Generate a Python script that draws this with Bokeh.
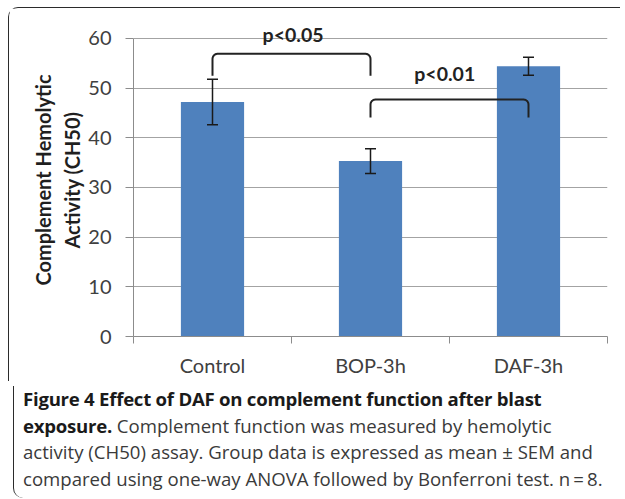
import math
from bokeh.plotting import figure
from bokeh.models import ColumnDataSource, Whisker, Label, FixedTicker, Div, TeeHead, Spacer
from bokeh.layouts import column, row
from bokeh.embed import file_html
from bokeh.resources import INLINE

# ---- data ----
categories = ["Control", "BOP-3h", "DAF-3h"]
means = [47.2, 35.3, 54.4]
sems = [4.6, 2.5, 1.8]
y_ticks = [0, 10, 20, 30, 40, 50, 60]

bracket_from = [0, 1]          # category index of left leg
bracket_to = [1, 2]            # category index of right leg
bracket_top = [56.9, 47.7]
bracket_foot = [52.5, 44.1]
bracket_text = ["p<0.05", "p<0.01"]
bracket_text_x = [0.51, 1.47]
bracket_text_y = [60.8, 52.9]

caption_bold = "Figure 4 Effect of DAF on complement function after blast"
caption_bold2 = "exposure."
caption_rest = [" Complement function was measured by hemolytic",
                "activity (CH50) assay. Group data is expressed as mean \u00b1 SEM and",
                "compared using one-way ANOVA followed by Bonferroni test. n\u2009=\u20098."]

# ---- figure ----
FONT = "Lato"
BORDER = "1.5px solid #2b2b2b"
xs = list(range(len(categories)))

p = figure(width=612, height=374, x_range=(-0.5, len(categories) - 0.5), y_range=(0, 63),
           output_backend="svg", toolbar_location=None,
           min_border_left=124, min_border_right=14, min_border_top=15, min_border_bottom=46,
           styles={"border-top": BORDER, "border-left": BORDER, "border-top-left-radius": "10px"})
p.outline_line_color = None

p.vbar(x=xs, top=means, width=0.4, fill_color="#4F81BD", line_color=None)

src = ColumnDataSource(dict(x=xs, upper=[m + s for m, s in zip(means, sems)],
                            lower=[m - s for m, s in zip(means, sems)]))
w = Whisker(base="x", upper="upper", lower="lower", source=src, level="overlay",
            line_color="#1a1a1a", line_width=1.5,
            upper_head=TeeHead(size=11, line_color="#1a1a1a", line_width=1.5),
            lower_head=TeeHead(size=11, line_color="#1a1a1a", line_width=1.5))
p.add_layout(w)

# brackets with slightly rounded corners (corner radius in px converted to data units)
RX, RY = 5 / 158.0, 5 / 4.97
angles = [i * math.pi / 12 for i in range(7)]   # 0..90 degrees
bx, by = [], []
for a, b, f, t in zip(bracket_from, bracket_to, bracket_foot, bracket_top):
    xx, yy = [a], [f]
    for ang in angles:  # left corner: 180 -> 90 deg
        th = math.pi - ang
        xx.append(a + RX + RX * math.cos(th)); yy.append(t - RY + RY * math.sin(th))
    for ang in angles:  # right corner: 90 -> 0 deg
        th = math.pi / 2 - ang
        xx.append(b - RX + RX * math.cos(th)); yy.append(t - RY + RY * math.sin(th))
    xx.append(b); yy.append(f)
    bx.append(xx); by.append(yy)
p.multi_line(xs=bx, ys=by, line_color="#222222", line_width=2, line_join="round")

for tx, ty, tt in zip(bracket_text_x, bracket_text_y, bracket_text):
    p.add_layout(Label(x=tx, y=ty, text=tt, text_align="center", text_baseline="middle",
                       text_font=FONT, text_font_style="bold", text_font_size="19.5px",
                       text_color="#222222"))

# axes
AX = "#8c8c8c"
p.xaxis.ticker = FixedTicker(ticks=xs, minor_ticks=[i - 0.5 for i in range(len(categories) + 1)])
p.xaxis.major_label_overrides = {i: c for i, c in enumerate(categories)}
p.xaxis.major_tick_out = 0
p.xaxis.major_tick_in = 0
p.xaxis.minor_tick_out = 7
p.xaxis.minor_tick_in = 0
p.xaxis.minor_tick_line_color = AX
p.xaxis.axis_line_color = AX
p.xaxis.major_label_standoff = 9
p.xaxis.major_label_text_font = FONT
p.xaxis.major_label_text_font_size = "20px"
p.xaxis.major_label_text_color = "#404040"

p.yaxis.ticker = FixedTicker(ticks=y_ticks, minor_ticks=[])
p.yaxis.bounds = (0, 60)
p.yaxis.major_tick_out = 8
p.yaxis.major_tick_in = 0
p.yaxis.major_tick_line_color = AX
p.yaxis.axis_line_color = AX
p.yaxis.major_label_standoff = 14
p.yaxis.major_label_text_font = FONT
p.yaxis.major_label_text_font_size = "20px"
p.yaxis.major_label_text_color = "#404040"
p.yaxis.axis_label = "Complement Hemolytic\nActivity (CH50)"
p.yaxis.axis_label_text_font = FONT
p.yaxis.axis_label_text_font_style = "bold"
p.yaxis.axis_label_text_font_size = "20px"
p.yaxis.axis_label_text_color = "#1f1f1f"
p.yaxis.axis_label_text_line_height = 1.22
p.yaxis.axis_label_standoff = 1

p.xgrid.visible = False
p.ygrid.ticker = FixedTicker(ticks=y_ticks, minor_ticks=[])
p.ygrid.grid_line_color = "#a3a3a3"
p.ygrid.grid_line_width = 1

html = ('<div style="font-family:\'Open Sans\'; font-size:18.6px; line-height:26.5px; color:#3a3a3a; '
        'white-space:nowrap; padding:0 0 0 9px;">'
        '<b style="color:#1a1a1a; letter-spacing:-0.25px">' + caption_bold + '<br>' + caption_bold2 + '</b>'
        + caption_rest[0] + '<br>' + caption_rest[1] + '<br>' + caption_rest[2] + '</div>')
cap = Div(text=html, width=612, height=112,
          styles={"border-left": BORDER, "border-bottom-left-radius": "10px"})

layout = column(Spacer(height=7), row(Spacer(width=8), column(p, cap, spacing=0), spacing=0), spacing=0)
open("out.html", "w").write(file_html(layout, INLINE))
